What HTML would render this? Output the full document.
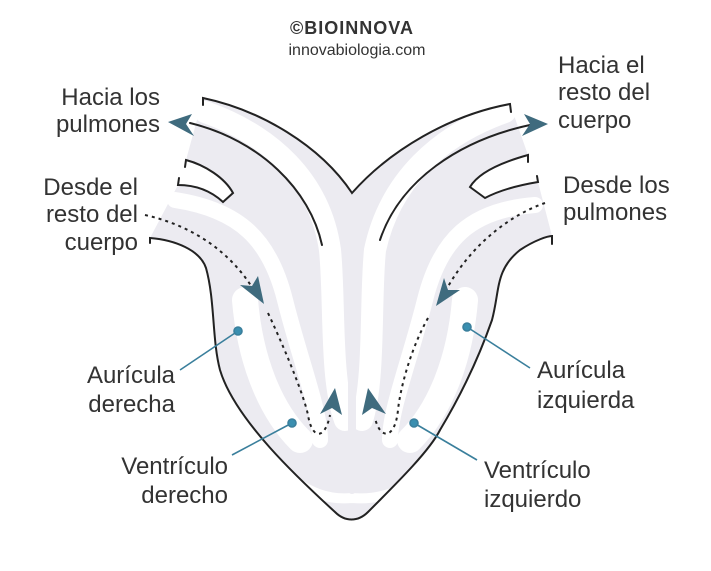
<!DOCTYPE html>
<html><head><meta charset="utf-8"><style>
body{margin:0;background:#fff;}
svg{display:block;}
text{font-family:"Liberation Sans",sans-serif;fill:#333;}
.l{font-size:24px;}
</style></head><body>
<svg width="711" height="571" viewBox="0 0 711 571" xmlns="http://www.w3.org/2000/svg">
<!-- gray heart body -->
<path d="M203,98 C260,110 320,145 352,193 C390,150 450,115 510,104 L528,155 C510,160 480,170 470,187 L485,198 C500,190 520,185 538,182 L552,236 C548,236 535,240 520,250 C495,270 500,290 492,320 C485,340 470,380 440,430 C430,450 400,480 368,512 C358,522 345,522 335,512 C300,480 235,420 220,370 C212,340 215,300 206,268 C200,250 175,240 150,238 L178,185 C195,185 210,190 223,202 L233,193 C225,178 205,165 186,160 Z" fill="#ecebf1"/>
<!-- white channels -->
<g fill="none" stroke="#fff" stroke-linecap="round">
<path d="M205,112 C270,135 320,180 330,250 C335,300 330,380 345,420" stroke-width="22"/>
<path d="M505,112 C440,135 390,180 375,250 C370,300 375,380 362,420" stroke-width="22"/>
<path d="M175,200 C240,210 270,240 285,300 C300,360 320,410 320,440" stroke-width="16"/>
<path d="M535,205 C470,210 440,240 425,300 C410,360 390,410 390,440" stroke-width="16"/>
<path d="M245,300 C250,360 270,410 300,440" stroke-width="26"/>
<path d="M465,300 C460,360 440,410 410,440" stroke-width="26"/>
<path d="M280,470 C310,495 330,500 352,498 C375,500 400,495 430,470" stroke-width="10"/>
<path d="M352,260 L352,490" stroke-width="8" stroke="#ecebf1"/>
</g>
<!-- outlines -->
<g fill="none" stroke="#222" stroke-width="2" stroke-linecap="round">
<path d="M203,105 L203,98 C260,110 320,145 352,193 C390,150 450,115 510,104 L511,112"/>
<path d="M190,123 C260,140 310,190 322,245"/>
<path d="M380,240 C400,180 460,140 530,125"/>
<path d="M185,167 L186,160 C205,165 225,178 233,193 L223,202 C210,190 195,185 178,185 L179,178"/>
<path d="M528,162 L528,155 C510,160 480,170 470,187 L485,198 C500,190 520,185 538,182 L537,176"/>
<path d="M150,243 L150,238 C175,240 200,250 206,268 C215,300 212,340 220,370 C235,420 300,480 335,512 C345,522 358,522 368,512 C400,480 430,450 440,430 C470,380 485,340 492,320 C500,290 495,270 520,250 C535,240 548,236 552,236 L552,244"/>
</g>
<!-- dotted paths -->
<g fill="none" stroke="#222" stroke-width="2" stroke-dasharray="3,4">
<path d="M145,215 C190,225 230,250 255,292"/>
<path d="M268,313 C290,360 305,400 308,415 C312,440 325,440 330,415"/>
<path d="M545,203 C510,215 470,245 445,292"/>
<path d="M428,318 C410,350 400,390 398,410 C395,440 380,440 375,418"/>
</g>
<!-- arrowheads -->
<g fill="#3f6b7e">
<polygon points="168,122 192,114 186,124 194,136"/>
<polygon points="548,124 524,114 530,124 522,136"/>
<polygon points="264,304 240,285 252,286 258,276"/>
<polygon points="436,306 460,290 448,290 444,278"/>
<polygon points="335,388 342,415 332,408 320,414"/>
<polygon points="368,388 362,415 372,408 386,414"/>
</g>
<!-- pointers -->
<g stroke="#3a7f9c" stroke-width="1.6" fill="#3a8fb0">
<line x1="180" y1="370" x2="238" y2="331"/><circle cx="238" cy="331" r="4"/>
<line x1="232" y1="455" x2="292" y2="423"/><circle cx="292" cy="423" r="4"/>
<line x1="467" y1="327" x2="530" y2="368"/><circle cx="467" cy="327" r="4"/>
<line x1="414" y1="423" x2="477" y2="460"/><circle cx="414" cy="423" r="4"/>
</g>
<!-- header -->
<text x="352" y="34" text-anchor="middle" style="font-size:18px;font-weight:bold;letter-spacing:1px">©BIOINNOVA</text>
<text x="357" y="55" text-anchor="middle" style="font-size:16px">innovabiologia.com</text>
<!-- labels -->
<g class="l">
<text x="160" y="105" text-anchor="end" class="l">Hacia los</text>
<text x="160" y="132" text-anchor="end" class="l">pulmones</text>
<text x="138" y="195" text-anchor="end" class="l">Desde el</text>
<text x="138" y="222" text-anchor="end" class="l">resto del</text>
<text x="138" y="250" text-anchor="end" class="l">cuerpo</text>
<text x="558" y="73" class="l">Hacia el</text>
<text x="558" y="100" class="l">resto del</text>
<text x="558" y="128" class="l">cuerpo</text>
<text x="563" y="193" class="l">Desde los</text>
<text x="563" y="220" class="l">pulmones</text>
<text x="175" y="383" text-anchor="end" class="l">Aurícula</text>
<text x="175" y="412" text-anchor="end" class="l">derecha</text>
<text x="537" y="378" class="l">Aurícula</text>
<text x="537" y="408" class="l">izquierda</text>
<text x="228" y="474" text-anchor="end" class="l">Ventrículo</text>
<text x="228" y="503" text-anchor="end" class="l">derecho</text>
<text x="484" y="478" class="l">Ventrículo</text>
<text x="484" y="507" class="l">izquierdo</text>
</g>
</svg>
</body></html>
